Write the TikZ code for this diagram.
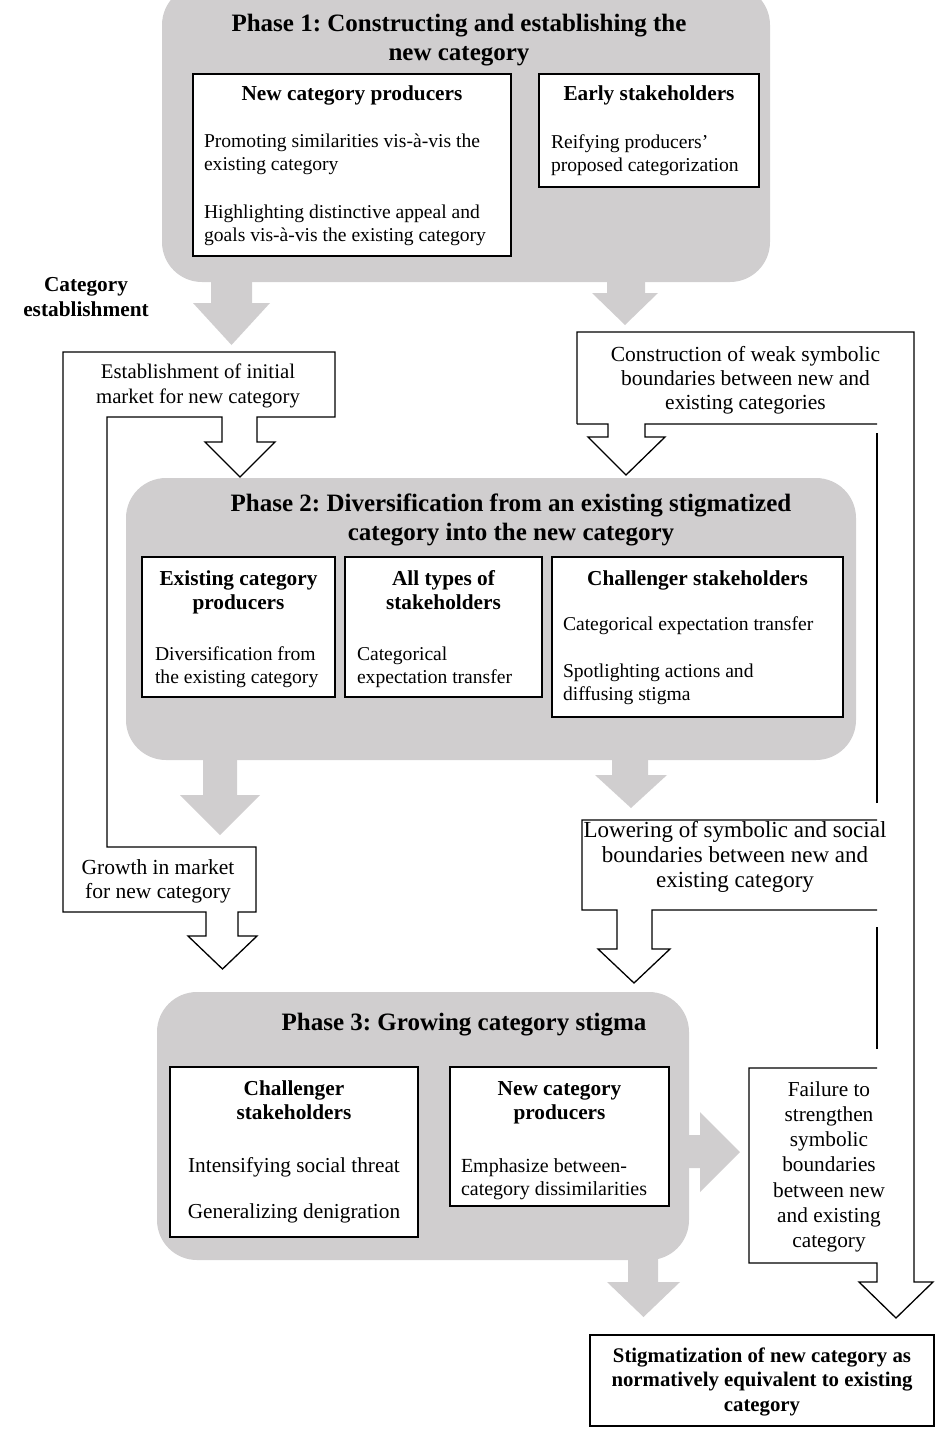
\documentclass[tikz,border=0pt]{standalone}
\usepackage{fontspec}
\setmainfont{Liberation Serif}
\frenchspacing
\definecolor{phasegray}{RGB}{208,206,207}
\newcommand\ttlf{\fontsize{25}{29}\selectfont\bfseries}
\newcommand\hdf{\fontsize{21.3}{24}\selectfont\bfseries}
\newcommand\bdf{\fontsize{19.6}{23}\selectfont}
\newcommand\lbf{\fontsize{21.3}{24}\selectfont}

\begin{document}
\begin{tikzpicture}[x=1pt,y=-1pt,
  phase/.style={fill=phasegray, rounded corners=40pt, inner sep=0pt, outer sep=0pt, anchor=north west},
  grayarrow/.style={fill=phasegray},
  flow/.style={draw=black, line width=1.3pt, line join=miter},
  actor/.style={draw=black, fill=white, line width=1.3pt, inner sep=0pt},
  tx/.style={inner sep=0pt, outer sep=0pt},
]
\useasboundingbox (0,0) rectangle (936,1430);
\clip (0,0) rectangle (936,1430);

% ---------- phase panels ----------
\node[phase, minimum width=608pt, minimum height=297pt] (p1) at (162,-15) {};
\node[phase, minimum width=730pt, minimum height=282pt] (p2) at (126,478) {};
\node[phase, minimum width=532pt, minimum height=268pt] (p3) at (157,992) {};

% ---------- grey block arrows ----------
\fill[grayarrow] (211,270) -- (252,270) -- (252,303) -- (270,303) -- (231.5,345) -- (193,303) -- (211,303) -- cycle;
\fill[grayarrow] (607,270) -- (645,270) -- (645,293) -- (658,293) -- (625,325) -- (592,293) -- (607,293) -- cycle;
\fill[grayarrow] (203,750) -- (237,750) -- (237,795) -- (260,795) -- (220,835) -- (180,795) -- (203,795) -- cycle;
\fill[grayarrow] (612,750) -- (648,750) -- (648,775) -- (667,775) -- (631,808) -- (595,775) -- (612,775) -- cycle;
\fill[grayarrow] (680,1135) -- (700,1135) -- (700,1112) -- (740,1152) -- (700,1192) -- (700,1168) -- (680,1168) -- cycle;
\fill[grayarrow] (628,1250) -- (658,1250) -- (658,1282) -- (680,1282) -- (643.5,1317) -- (607,1282) -- (628,1282) -- cycle;

% ---------- market outline (left) ----------
\filldraw[flow, fill=white] (63,352) -- (335,352) -- (335,417) -- (257,417) -- (257,442) -- (275,442)
  -- (240,477) -- (205,442) -- (222,442) -- (222,417) -- (107,417) -- (107,847) -- (256,847)
  -- (256,912) -- (238,912) -- (238,936) -- (257,936) -- (222.5,969) -- (188,936) -- (206,936)
  -- (206,912) -- (63,912) -- cycle;

% ---------- boundary outline (right) ----------
\fill[white] (577,332) -- (914,332) -- (914,1282) -- (933,1282) -- (896,1318) -- (859,1282) -- (877,1282)
  -- (877,1263) -- (749,1263) -- (749,1068) -- (877,1068) -- (877,910) -- (652,910) -- (652,949)
  -- (670,949) -- (634,983) -- (598,949) -- (617,949) -- (617,910) -- (582,910) -- (582,820)
  -- (877,820) -- (877,424) -- (645,424) -- (645,437) -- (665,437) -- (626,475) -- (588,437)
  -- (608,437) -- (608,424) -- (577,424) -- cycle;
\draw[flow] (577,424) -- (577,332) -- (914,332) -- (914,1282) -- (933,1282) -- (896,1318) -- (859,1282)
  -- (877,1282) -- (877,1263) -- (749,1263) -- (749,1068) -- (877,1068);
\draw[flow] (877,1049) -- (877,927);
\draw[flow] (877,910) -- (652,910) -- (652,949) -- (670,949) -- (634,983) -- (598,949) -- (617,949)
  -- (617,910) -- (582,910) -- (582,820) -- (877,820);
\draw[flow] (877,803) -- (877,433);
\draw[flow] (877,424) -- (645,424) -- (645,437) -- (665,437) -- (626,475) -- (588,437) -- (608,437)
  -- (608,424) -- (577,424);

% ---------- actor boxes ----------
\node[actor, minimum width=318pt, minimum height=182pt] (ncp1) at (352,165) {};
\node[actor, minimum width=220pt, minimum height=113pt] (early) at (649,130.5) {};
\node[actor, minimum width=193pt, minimum height=140pt] (ecp) at (238.5,627) {};
\node[actor, minimum width=197pt, minimum height=140pt] (all) at (443.5,627) {};
\node[actor, minimum width=291pt, minimum height=160pt] (chal2) at (697.5,637) {};
\node[actor, minimum width=248pt, minimum height=170pt] (chal3) at (294,1152) {};
\node[actor, minimum width=219pt, minimum height=139pt] (ncp3) at (559.5,1136.5) {};
\node[draw=black, line width=2.5pt, inner sep=0pt, minimum width=344pt, minimum height=91pt] (final) at (762,1380.5) {};

% ---------- phase 1 text ----------
\node[tx, anchor=north, align=center, font=\ttlf] (p1t) at (459,10.7)
  {\strut Phase 1: Constructing and establishing the\\new category};
\node[tx, anchor=base, font=\hdf] (ncp1h) at (352,100) {New category producers};
\node[tx, anchor=north west, align=left, font=\bdf] (ncp1b) at (204,130.9)
  {\strut Promoting similarities vis-à-vis the\\existing category\\[25pt]Highlighting distinctive appeal and\\goals vis-à-vis the existing category};
\node[tx, anchor=base, font=\hdf] (earlyh) at (649,100) {Early stakeholders};
\node[tx, anchor=north west, align=left, font=\bdf] (earlyb) at (551,131.9)
  {\strut Reifying producers’\\proposed categorization};

% ---------- phase 2 text ----------
\node[tx, anchor=north, align=center, font=\ttlf] (p2t) at (511,490.7)
  {\strut Phase 2: Diversification from an existing stigmatized\\category into the new category};
\node[tx, anchor=north, align=center, font=\hdf] (ecph) at (238.5,568.2) {\strut Existing category\\producers};
\node[tx, anchor=north west, align=left, font=\bdf] (ecpb) at (155,643.9) {\strut Diversification from\\the existing category};
\node[tx, anchor=north, align=center, font=\hdf] (allh) at (443.5,568.2) {\strut All types of\\stakeholders};
\node[tx, anchor=north west, align=left, font=\bdf] (allb) at (357,643.9) {\strut Categorical\\expectation transfer};
\node[tx, anchor=base, font=\hdf] (chal2h) at (697.5,585) {Challenger stakeholders};
\node[tx, anchor=north west, align=left, font=\bdf] (chal2b) at (563,613.9)
  {\strut Categorical expectation transfer\\[24pt]Spotlighting actions and\\diffusing stigma};

% ---------- phase 3 text ----------
\node[tx, anchor=base, font=\ttlf] (p3t) at (464,1030) {Phase 3: Growing category stigma};
\node[tx, anchor=north, align=center, font=\hdf] (chal3h) at (294,1078.2) {\strut Challenger\\stakeholders};
\node[tx, anchor=north, align=center, font=\lbf] (chal3b) at (294,1155.2)
  {\strut Intensifying social threat\\[22pt]Generalizing denigration};
\node[tx, anchor=north, align=center, font=\hdf] (ncp3h) at (559.5,1078.2) {\strut New category\\producers};
\node[tx, anchor=north west, align=left, font=\fontsize{20}{23}\selectfont] (ncp3b) at (461,1155.9)
  {\strut Emphasize between-\\category dissimilarities};

% ---------- outcome labels ----------
\node[tx, anchor=north, align=center, font=\fontsize{21.3}{25}\selectfont\bfseries] (estlbl) at (86,273.5)
  {\strut Category\\establishment};
\node[tx, anchor=north, align=center, font=\fontsize{20.8}{25}\selectfont] (initmkt) at (198,360.5)
  {\strut Establishment of initial\\market for new category};
\node[tx, anchor=north, align=center, font=\fontsize{21.5}{24}\selectfont] (weakb) at (745.5,344.2)
  {\strut Construction of weak symbolic\\boundaries between new and\\existing categories};
\node[tx, anchor=north, align=center, font=\fontsize{21.5}{24}\selectfont] (growth) at (158,857.2)
  {\strut Growth in market\\for new category};
\node[tx, anchor=north, align=center, font=\fontsize{23}{25}\selectfont] (lower) at (735,819.5)
  {\strut Lowering of symbolic and social\\boundaries between new and\\existing category};
\node[tx, anchor=north, align=center, font=\fontsize{21.3}{25.3}\selectfont] (failure) at (829,1078.3)
  {\strut Failure to\\strengthen\\symbolic\\boundaries\\between new\\and existing\\category};
\node[tx, anchor=north, align=center, font=\fontsize{20.8}{24.5}\selectfont\bfseries] (finalt) at (762,1344.9)
  {\strut Stigmatization of new category as\\normatively equivalent to existing\\category};
\end{tikzpicture}
\end{document}
